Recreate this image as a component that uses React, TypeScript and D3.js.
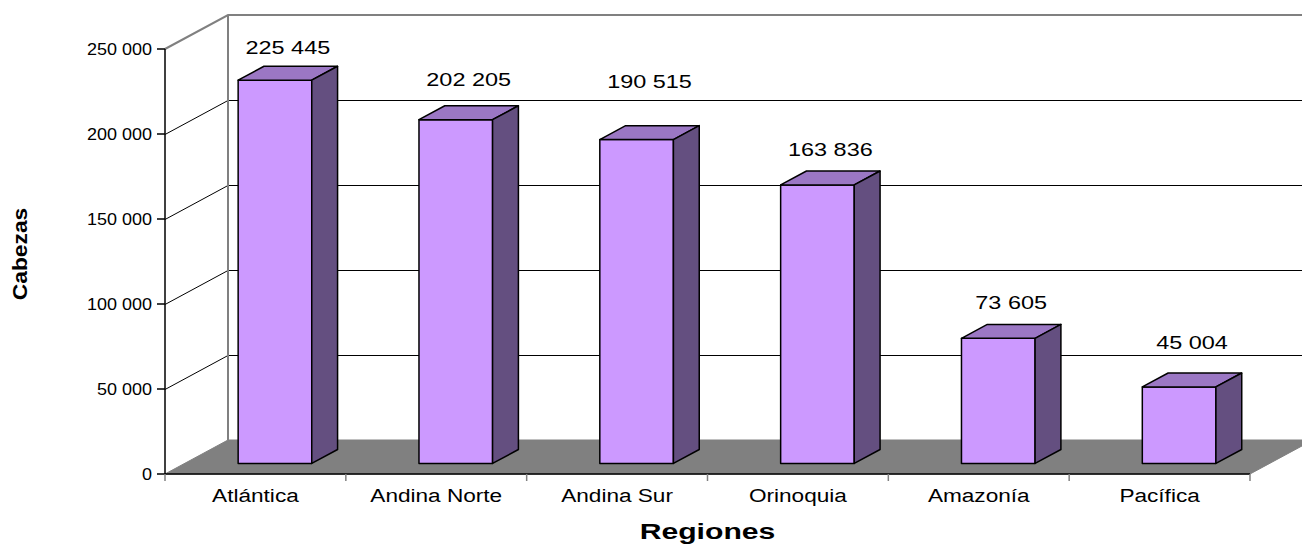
import React from "react";
import * as d3 from "d3";

const categories = ["Atlántica", "Andina Norte", "Andina Sur", "Orinoquia", "Amazonía", "Pacífica"];
const values = [225445, 202205, 190515, 163836, 73605, 45004];
const valueLabels = ["225 445", "202 205", "190 515", "163 836", "73 605", "45 004"];
const yTicks = [0, 50000, 100000, 150000, 200000, 250000];
const yTickLabels = ["0", "50 000", "100 000", "150 000", "200 000", "250 000"];
const labelGap = [12, 20, 38, 15, 15, 24];

const W = 1302;
const H = 544;
const X0 = 165;
const X1 = 1250;
const Y0 = 474;
const Y1 = 49;
const DX = 63;
const DY = 34;
const F0 = 0.31;
const F1 = 0.72;

const FONT = "'Liberation Sans', Arial, sans-serif";
const WALL = "#808080";

export default function App() {
  const y = d3.scaleLinear().domain([0, 250000]).range([Y0, Y1]);
  const x = d3
    .scaleBand<string>()
    .domain(categories)
    .range([X0, X1])
    .paddingInner(0.593)
    .paddingOuter(0.2965);
  const step = (X1 - X0) / categories.length;
  const bw = x.bandwidth();
  const fx = DX * F0;
  const fy = DY * F0;
  const ddx = DX * (F1 - F0);
  const ddy = DY * (F1 - F0);
  const yBottom = Y0 - fy;

  const pts = (p: number[][]) => p.map((q) => q.join(",")).join(" ");

  return (
    <svg
      width={W}
      height={H}
      style={{ position: "absolute", left: 0, top: 0, background: "#fff" }}
      fontFamily={FONT}
    >
      {/* floor */}
      <polygon
        points={pts([
          [X0, Y0],
          [X1, Y0],
          [X1 + DX, Y0 - DY],
          [X0 + DX, Y0 - DY],
        ])}
        fill={WALL}
        stroke={WALL}
        strokeWidth={1}
      />
      {/* gridlines */}
      {yTicks.slice(1, -1).map((t) => (
        <polyline
          key={t}
          points={pts([
            [X0, y(t) + 0.5],
            [X0 + DX, y(t) - DY + 0.5],
            [X1 + DX, y(t) - DY + 0.5],
          ])}
          fill="none"
          stroke="#000"
          strokeWidth={1}
        />
      ))}
      {/* walls outline */}
      <polyline
        points={pts([
          [X0, Y1],
          [X0 + DX, Y1 - DY],
          [X1 + DX, Y1 - DY],
        ])}
        fill="none"
        stroke={WALL}
        strokeWidth={2}
      />
      <line x1={X0 + DX} y1={Y1 - DY} x2={X0 + DX} y2={Y0 - DY} stroke={WALL} strokeWidth={2} />

      {/* bars */}
      {categories.map((c, i) => {
        const bx = (x(c) as number) + fx;
        const yv = y(values[i]) - fy;
        return (
          <g key={c} stroke="#000" strokeWidth={1.5} strokeLinejoin="round">
            <rect x={bx} y={yv} width={bw} height={yBottom - yv} fill="#CC99FF" />
            <polygon
              points={pts([
                [bx, yv],
                [bx + bw, yv],
                [bx + bw + ddx, yv - ddy],
                [bx + ddx, yv - ddy],
              ])}
              fill="#9B77C4"
            />
            <polygon
              points={pts([
                [bx + bw, yv],
                [bx + bw + ddx, yv - ddy],
                [bx + bw + ddx, yBottom - ddy],
                [bx + bw, yBottom],
              ])}
              fill="#644F80"
            />
          </g>
        );
      })}

      {/* value labels */}
      {categories.map((c, i) => {
        const bx = (x(c) as number) + fx;
        const cx = bx + (bw + ddx) / 2;
        const by = y(values[i]) - fy - ddy - labelGap[i];
        return (
          <text
            key={c}
            transform={`translate(${cx},${by}) scale(1.34,1)`}
            textAnchor="middle"
            fontSize={17.5}
            fill="#000"
          >
            {valueLabels[i]}
          </text>
        );
      })}

      {/* y axis */}
      <line x1={X0} y1={Y1} x2={X0} y2={Y0} stroke="#000" strokeWidth={1.5} />
      {yTicks.map((t, i) => (
        <g key={t}>
          <line x1={X0 - 8} y1={y(t)} x2={X0} y2={y(t)} stroke="#000" strokeWidth={1.5} />
          <text
            transform={`translate(${X0 - 13},${y(t) + 6}) scale(1.06,1)`}
            textAnchor="end"
            fontSize={17}
            fill="#000"
          >
            {yTickLabels[i]}
          </text>
        </g>
      ))}

      {/* x axis */}
      <line x1={X0} y1={Y0} x2={X1} y2={Y0} stroke="#000" strokeWidth={1.5} />
      {d3.range(categories.length + 1).map((k) => (
        <line
          key={k}
          x1={X0 + k * step}
          y1={Y0}
          x2={X0 + k * step}
          y2={Y0 + 7}
          stroke={WALL}
          strokeWidth={1.5}
        />
      ))}
      {categories.map((c) => (
        <text
          key={c}
          transform={`translate(${(x(c) as number) + bw / 2},502) scale(1.27,1)`}
          textAnchor="middle"
          fontSize={17.8}
          fill="#000"
        >
          {c}
        </text>
      ))}

      {/* axis titles */}
      <text
        transform={`translate(${(X0 + X1) / 2},539) scale(1.37,1)`}
        textAnchor="middle"
        fontSize={22}
        fontWeight="bold"
        fill="#000"
      >
        Regiones
      </text>
      <text
        transform={`translate(27,254) rotate(-90) scale(1.14,1)`}
        textAnchor="middle"
        fontSize={20}
        fontWeight="bold"
        fill="#000"
      >
        Cabezas
      </text>
    </svg>
  );
}
